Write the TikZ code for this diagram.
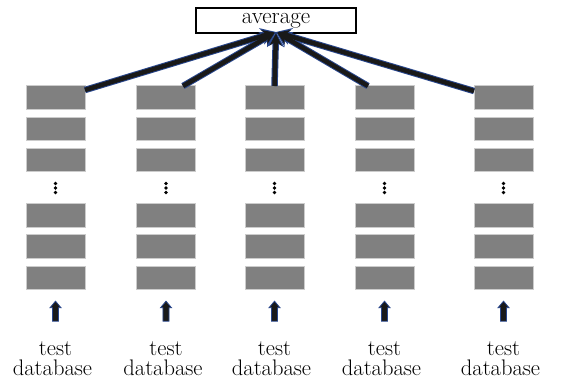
\documentclass[tikz,border=0pt]{standalone}
\usepackage{fontspec}
\usetikzlibrary{arrows.meta,shapes.arrows}
\definecolor{edgeblue}{RGB}{40,70,140}
\definecolor{slab}{RGB}{128,128,128}
\tikzset{
  slabbox/.style={draw=gray!40, line width=0.6pt, fill=slab, minimum width=59pt, minimum height=23.5pt, inner sep=0pt},
  avgbox/.style={draw=black, line width=1.2pt, minimum width=160pt, minimum height=25pt, inner sep=0pt, font=\fontsize{23}{24}\selectfont},
  label/.style={anchor=base, font=\fontsize{22.5}{20}\selectfont, inner sep=0pt},
  outer/.style={draw=edgeblue, line width=6.5pt, -{Stealth[length=15pt,width=17pt]}},
  inner/.style={draw=black!90, line width=4.5pt, -{Stealth[length=12pt,width=12pt]}},
  uparrow/.style={single arrow, shape border rotate=90, draw=edgeblue, fill=black!90, line width=0.8pt,
    minimum height=20pt, minimum width=11pt, single arrow head extend=1.5pt, single arrow tip angle=80, inner sep=1.5pt},
  dot/.style={circle, fill=black, inner sep=0pt, minimum size=3.6pt}
}
\begin{document}
\begin{tikzpicture}[x=1pt,y=-1pt]
\useasboundingbox (0,0) rectangle (561,380);
\node[avgbox] (avg) at (276,20.5) {average};
\coordinate (tip) at (276,32);
% five stacks of slabs
\foreach \i/\cx in {1/55.5,2/166,3/274.5,4/384.5,5/503.5}{
  \node[slabbox] (b\i a) at (\cx,97.5) {};
  \node[slabbox] (b\i b) at (\cx,129) {};
  \node[slabbox] (b\i c) at (\cx,160) {};
  \node[dot] (d\i a) at (\cx,183.5) {};
  \node[dot] (d\i b) at (\cx,188) {};
  \node[dot] (d\i c) at (\cx,192.5) {};
  \node[slabbox] (b\i d) at (\cx,215.5) {};
  \node[slabbox] (b\i e) at (\cx,246.5) {};
  \node[slabbox] (b\i f) at (\cx,278) {};
  \node[uparrow] (u\i) at (\cx,313) {};
  \node[label] (t\i) at (\cx,355) {test};
  \node[label] (db\i) at (\cx-3,375) {database};
}
% connectors to the average box
\coordinate (s1) at (85,90);
\coordinate (s2) at (183,86);
\coordinate (s3) at (274.5,86);
\coordinate (s4) at (368,86);
\coordinate (s5) at (474,91);
\foreach \k in {1,...,5}{
  \draw[outer] (s\k) -- (tip);
}
\foreach \k in {1,...,5}{
  \draw[inner, shorten >=1.5pt] (s\k) -- (tip);
}
\end{tikzpicture}
\end{document}
